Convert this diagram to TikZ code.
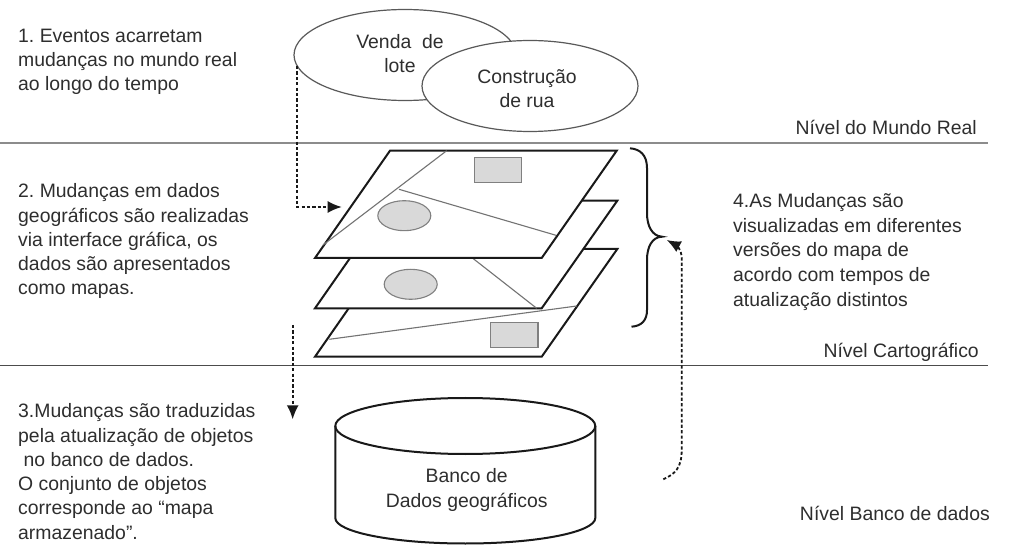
\documentclass[tikz,border=0pt]{standalone}
\usepackage{fontspec}
\setmainfont{Liberation Sans}
\usetikzlibrary{arrows.meta,shapes.geometric}
\definecolor{ink}{HTML}{2E2E2E}
\definecolor{fillgray}{HTML}{D9D9D9}
\frenchspacing
\tikzset{
 x=1pt,y=-1pt,
 lbl/.style={inner sep=0pt,text=ink,font=\fontsize{19.4}{24.3}\selectfont,align=left,anchor=north west},
 ctr/.style={inner sep=0pt,text=ink,font=\fontsize{19.4}{24.3}\selectfont,align=center},
 evt/.style={draw=black!65,line width=1.2pt,fill=white,ellipse,inner sep=0pt},
 sheet/.style={draw=black!90,line width=2pt,fill=white,line join=miter},
 thin line/.style={draw=black!55,line width=1.1pt},
 blob/.style={draw=black!50,line width=1.1pt,fill=fillgray},
 level/.style={draw=black!45,line width=1.2pt},
 dash arrow/.style={draw=black!90,line width=1.8pt,dash pattern=on 3.2pt off 2.2pt,-{Latex[length=14pt,width=12pt,sep=0pt]}},
}
\begin{document}
\begin{tikzpicture}
\useasboundingbox (0,0) rectangle (1018,545);
\fill[white] (0,0) rectangle (1018,545);
% levels
\coordinate (l1a) at (0,143); \coordinate (l1b) at (988,143);
\coordinate (l2a) at (0,365.5); \coordinate (l2b) at (988,365.5);
\draw[level] (l1a) -- (l1b);
\draw[level,draw=black!70] (l2a) -- (l2b);
% events
\node[evt,minimum width=222pt,minimum height=91pt] (venda) at (405,55) {};
\node[evt,minimum width=216pt,minimum height=91pt] (rua) at (530,86) {};
\node[ctr] (vendat) at (400,53.5) {Venda\ \ de\\lote};
\node[ctr] (ruat) at (527,88.5) {Construção\\de rua};
% sheets
\draw[sheet] (390,249) -- (617.3,249) -- (541.7,356.7) -- (315,356.7) -- cycle;
\draw[thin line] (576.7,306) -- (329.3,339.3);
\draw[blob] (490.3,322.7) rectangle (538,347.3);
\draw[sheet] (390,200.7) -- (617.3,200.7) -- (541.7,308.3) -- (315,308.3) -- cycle;
\draw[thin line] (473.3,258.7) -- (536.7,308.3);
\draw[blob] (410.7,284.3) ellipse [x radius=26.5,y radius=15];
\draw[sheet] (390,150.7) -- (616.7,150.7) -- (541.7,258) -- (315,258) -- cycle;
\draw[thin line] (446.7,150.7) -- (323,245);
\draw[thin line] (399,189.3) -- (556,235.3);
\draw[blob] (474.7,157.7) rectangle (521.7,182.3);
\draw[blob] (404.3,215.7) ellipse [x radius=26.5,y radius=15];
% brace
\coordinate (bt) at (630,148.3);
\coordinate (btip) at (662,236.7);
\coordinate (bb) at (631.5,326.7);
\draw[black!90,line width=2pt] (bt) .. controls (640,149) and (647,155) .. (647,168)
 -- (647,213) .. controls (647,226) and (652,236) .. (btip)
 .. controls (652,237) and (647,247) .. (647,260)
 -- (647,310) .. controls (647,320) and (642,326) .. (bb);
% cylinder
\coordinate (cl) at (335.3,426); \coordinate (cr) at (595.3,426);
\coordinate (cbl) at (335.3,518); \coordinate (cbr) at (595.3,518);
\draw[black!90,line width=2pt] (cl) -- (cbl) arc[start angle=180,end angle=0,x radius=130,y radius=25.5] -- (cr);
\draw[black!90,line width=2pt] (465.3,426) ellipse [x radius=130,y radius=28];
\node[ctr] (db) at (466.7,490) {Banco de\\Dados geográficos};
% dashed connectors
\coordinate (s1) at (296.7,66); \coordinate (c1) at (296.7,207); \coordinate (e1) at (341.7,207);
\draw[dash arrow] (s1) -- (c1) -- (e1);
\coordinate (s3) at (292.7,325); \coordinate (e3) at (292.7,419.3);
\draw[dash arrow] (s3) -- (e3);
\coordinate (s4) at (663.3,479.3); \coordinate (e4) at (666.7,240);
\draw[dash arrow] (s4) .. controls (675,474) and (681.7,468) .. (681.7,450) -- (681.7,258) .. controls (681.7,250) and (676,245) .. (e4);
% texts
\node[lbl] (t1) at (18,28.5) {1. Eventos acarretam\\mudanças no mundo real\\ao longo do tempo};
\node[lbl] (t2) at (18,183.5) {2. Mudanças em dados\\geográficos são realizadas\\via interface gráfica, os\\dados são apresentados\\como mapas.};
\node[lbl] (t3) at (18,403.5) {3.Mudanças são traduzidas\\pela atualização de objetos\\\ no banco de dados.\\O conjunto de objetos\\corresponde ao “mapa\\armazenado”.};
\node[lbl,font=\fontsize{19.4}{24.8}\selectfont] (t4) at (733,193) {4.As Mudanças são\\visualizadas em diferentes\\versões do mapa de\\acordo com tempos de\\atualização distintos};
\node[lbl,anchor=east] (n1) at (977,127) {Nível do Mundo Real};
\node[lbl,anchor=east] (n2) at (979,352) {Nível Cartográfico};
\node[lbl,anchor=east] (n3) at (990,513) {Nível Banco de dados};
\end{tikzpicture}
\end{document}
